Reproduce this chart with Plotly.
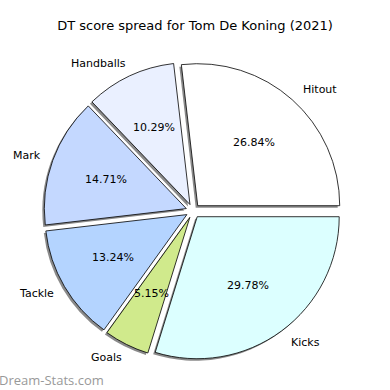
import math
import plotly.graph_objects as go

labels = ["Hitout", "Handballs", "Mark", "Tackle", "Goals", "Kicks"]
values = [73, 28, 40, 36, 14, 81]
colors = ["#ffffff", "#eaf0ff", "#c4d8ff", "#b4d4ff", "#d0ea8c", "#dcffff"]
shadow_colors = ["#8a8a8a"] * len(labels)
pulls = [0.05] * len(labels)

total = sum(values)
# first slice starts at 3 o'clock and runs counterclockwise
rotation = 90 - 360 * values[0] / total

W = H = 390
cx, cy, R = 193, 211, 142
half = R * (1 + max(pulls))
def dom(cx, cy):
    return dict(x=[(cx - half) / W, (cx + half) / W],
                y=[(H - cy - half) / H, (H - cy + half) / H])

common = dict(labels=labels, values=values, sort=False, direction="counterclockwise",
              rotation=rotation, pull=pulls, showlegend=False, hoverinfo="skip",
              textinfo="none")

fig = go.Figure()
fig.add_trace(go.Pie(**common, domain=dom(cx - 2, cy + 2),
                     marker=dict(colors=shadow_colors, line=dict(width=0))))
fig.add_trace(go.Pie(**common, domain=dom(cx, cy),
                     marker=dict(colors=colors, line=dict(color="#000000", width=0.8))))

# text placed like matplotlib's pie: percentages at 0.6R, labels at 1.1R
font = dict(family="DejaVu Sans", size=11, color="#000000")
annotations = []
start = 0.0
for lab, v, p in zip(labels, values, pulls):
    span = 360 * v / total
    mid = math.radians(start + span / 2)
    start += span
    ox = cx + p * R * math.cos(mid)
    oy = cy - p * R * math.sin(mid)
    px, py = ox + 0.6 * R * math.cos(mid), oy - 0.6 * R * math.sin(mid)
    annotations.append(dict(text=f"{100 * v / total:.2f}%", x=px / W, y=1 - py / H,
                            xref="paper", yref="paper", xanchor="center", yanchor="middle",
                            showarrow=False, font=font))
    lx, ly = ox + 1.1 * R * math.cos(mid), oy - 1.1 * R * math.sin(mid)
    right_side = math.cos(mid) > 0
    lx += -1 if right_side else 4  # compensate annotation padding
    annotations.append(dict(text=lab, x=lx / W, y=1 - ly / H,
                            xref="paper", yref="paper",
                            xanchor="left" if right_side else "right",
                            yanchor="middle", showarrow=False, font=font))

annotations.append(dict(text="Dream-Stats.com", x=-0.008, y=1 - 380 / H, xref="paper",
                        yref="paper", xanchor="left", yanchor="middle", showarrow=False,
                        font=dict(family="Open Sans", size=13, color="#999999")))

fig.update_layout(
    width=W, height=H, margin=dict(l=0, r=0, t=0, b=0),
    paper_bgcolor="white", plot_bgcolor="white",
    title=dict(text="DT score spread for Tom De Koning (2021)", x=0.5, xanchor="center",
               y=1 - 25 / H, yanchor="middle",
               font=dict(family="DejaVu Sans", size=13, color="#000000")),
    annotations=annotations,
)
fig.write_html("out.html", config={"displayModeBar": False},
               post_script="document.body.style.margin='0';")
